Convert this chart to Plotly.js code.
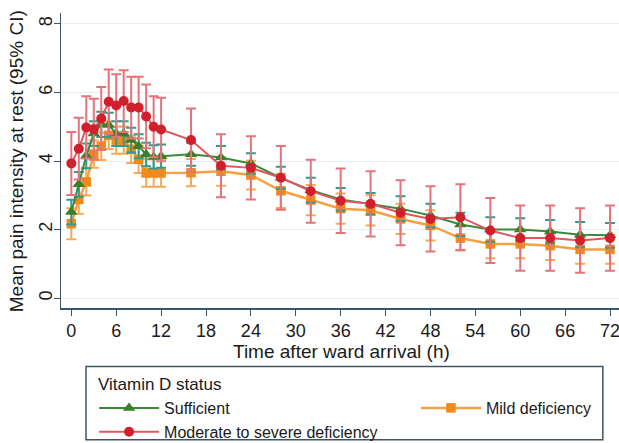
<!DOCTYPE html>
<html>
<head>
<meta charset="utf-8">
<script src="https://cdn.plot.ly/plotly-3.0.1.min.js"></script>
<style>html,body{margin:0;padding:0;background:#fff;}#chart{width:619px;height:443px;}</style>
</head>
<body>
<div id="chart"></div>
<script>
var hours = [0,1,2,3,4,5,6,7,8,9,10,11,12,16,20,24,28,32,36,40,44,48,52,56,60,64,68,72];
var sufficient = [2.51,3.32,4.15,4.80,5.07,5.05,4.80,4.80,4.61,4.43,4.19,4.12,4.14,4.20,4.10,3.93,3.51,3.15,2.88,2.75,2.61,2.41,2.15,2.00,2.00,1.94,1.85,1.83];
var sufficientCI = [0.36,0.36,0.36,0.36,0.37,0.36,0.36,0.36,0.36,0.35,0.34,0.34,0.34,0.34,0.34,0.30,0.32,0.36,0.33,0.32,0.36,0.34,0.34,0.36,0.33,0.34,0.37,0.36];
var moderate = [3.93,4.36,4.98,4.93,5.24,5.73,5.62,5.75,5.56,5.56,5.30,5.00,4.92,4.61,3.86,3.80,3.51,3.12,2.84,2.75,2.49,2.31,2.36,1.97,1.75,1.75,1.68,1.75];
var moderateCI = [0.92,0.90,0.91,0.89,0.92,0.94,0.91,0.90,0.90,0.90,0.93,0.89,0.93,0.92,0.92,0.92,0.93,0.92,0.94,0.95,0.95,0.95,0.96,0.95,0.95,0.95,0.94,0.95];
var mild = [2.17,2.88,3.39,4.20,4.43,4.75,4.61,4.61,4.34,4.05,3.65,3.65,3.65,3.66,3.70,3.59,3.13,2.86,2.61,2.56,2.31,2.12,1.75,1.58,1.58,1.53,1.42,1.42];
var mildCI = [0.45,0.42,0.40,0.40,0.40,0.40,0.40,0.40,0.40,0.40,0.40,0.40,0.40,0.40,0.42,0.42,0.50,0.44,0.44,0.44,0.44,0.44,0.36,0.42,0.42,0.42,0.42,0.42];
var xTicks = [0,6,12,18,24,30,36,42,48,54,60,66,72];
var yTicks = [0,2,4,6,8];
var xTitle = 'Time after ward arrival (h)';
var yTitle = 'Mean pain intensity at rest (95% CI)';
var legendTitle = 'Vitamin D status';

var font = 'Liberation Sans, Arial, sans-serif';
var traces = [
  {x: hours, y: mild, name: 'Mild deficiency', type: 'scatter', mode: 'lines+markers', legend: 'legend2',
   line: {color: '#f4a044', width: 2.5}, marker: {symbol: 'square', size: 9.5, color: '#f08a1c'},
   error_y: {type: 'data', array: mildCI, visible: true, color: '#f6aa55', thickness: 2, width: 5}},
  {x: hours, y: sufficient, name: 'Sufficient', type: 'scatter', mode: 'lines+markers', legend: 'legend',
   line: {color: '#3b8a3a', width: 2}, marker: {symbol: 'triangle-up', size: 11, color: '#3d7f28'},
   error_y: {type: 'data', array: sufficientCI, visible: true, color: '#2e9c8e', thickness: 2, width: 5}},
  {x: hours, y: moderate, name: 'Moderate to severe deficiency', type: 'scatter', mode: 'lines+markers', legend: 'legend',
   line: {color: '#e0575e', width: 2}, marker: {symbol: 'circle', size: 10, color: '#d0202e'},
   error_y: {type: 'data', array: moderateCI, visible: true, color: '#e5737a', thickness: 2, width: 5}}
];

var layout = {
  width: 619, height: 443,
  margin: {l: 61, r: 0, t: 13, b: 134.5, autoexpand: false},
  paper_bgcolor: '#ffffff', plot_bgcolor: '#ffffff',
  font: {family: font, color: '#1a1a1a', size: 18},
  showlegend: true,
  xaxis: {range: [-1.38, 73.2], tickvals: xTicks, ticktext: xTicks.map(String), ticks: 'outside', ticklen: 6,
          tickcolor: '#3c5566', showline: true, linecolor: '#3c5566', linewidth: 1.5, showgrid: false, zeroline: false,
          ticklabeloverflow: 'allow',
          tickfont: {size: 18, family: font, color: '#1a1a1a'}},
  yaxis: {range: [-0.29, 8.32], tickvals: yTicks, ticktext: yTicks.map(String), ticks: 'outside', ticklen: 6,
          tickcolor: '#3c5566', showline: true, linecolor: '#3c5566', linewidth: 1.5, showgrid: true, gridcolor: '#e2eef4',
          zeroline: false, tickangle: -90, ticklabelstandoff: -6, tickfont: {size: 18, family: font, color: '#1a1a1a'}},
  legend: {x: 0.152, xref: 'container', xanchor: 'left', y: 0.1174, yref: 'container', yanchor: 'top', orientation: 'v',
           itemwidth: 60, bgcolor: 'rgba(0,0,0,0)', font: {size: 16, family: font, color: '#1a1a1a'}, tracegroupgap: 0},
  legend2: {x: 0.672, xref: 'container', xanchor: 'left', y: 0.1174, yref: 'container', yanchor: 'top', orientation: 'v',
            itemwidth: 60, bgcolor: 'rgba(0,0,0,0)', font: {size: 16, family: font, color: '#1a1a1a'}},
  shapes: [{type: 'rect', xref: 'paper', yref: 'paper', x0: 0.0448, x1: 0.971, y0: -0.198, y1: -0.447,
            line: {color: '#3c5566', width: 1.5}, fillcolor: 'rgba(0,0,0,0)'}],
  annotations: [
    {text: legendTitle, xref: 'paper', yref: 'paper', x: 0.0627, y: -0.2589, xanchor: 'left', yanchor: 'middle',
     showarrow: false, font: {size: 17, family: font, color: '#1a1a1a'}},
    {text: xTitle, xref: 'paper', yref: 'paper', x: 0.5027, y: -0.1472, xanchor: 'center', yanchor: 'middle',
     showarrow: false, font: {size: 19, family: font, color: '#1a1a1a'}},
    {text: yTitle, xref: 'paper', yref: 'paper', x: -0.0797, y: 0.4958, xanchor: 'center', yanchor: 'middle', textangle: -90,
     showarrow: false, font: {size: 19, family: font, color: '#1a1a1a'}}
  ]
};
Plotly.newPlot('chart', traces, layout, {displayModeBar: false, staticPlot: true});
</script>
</body>
</html>
